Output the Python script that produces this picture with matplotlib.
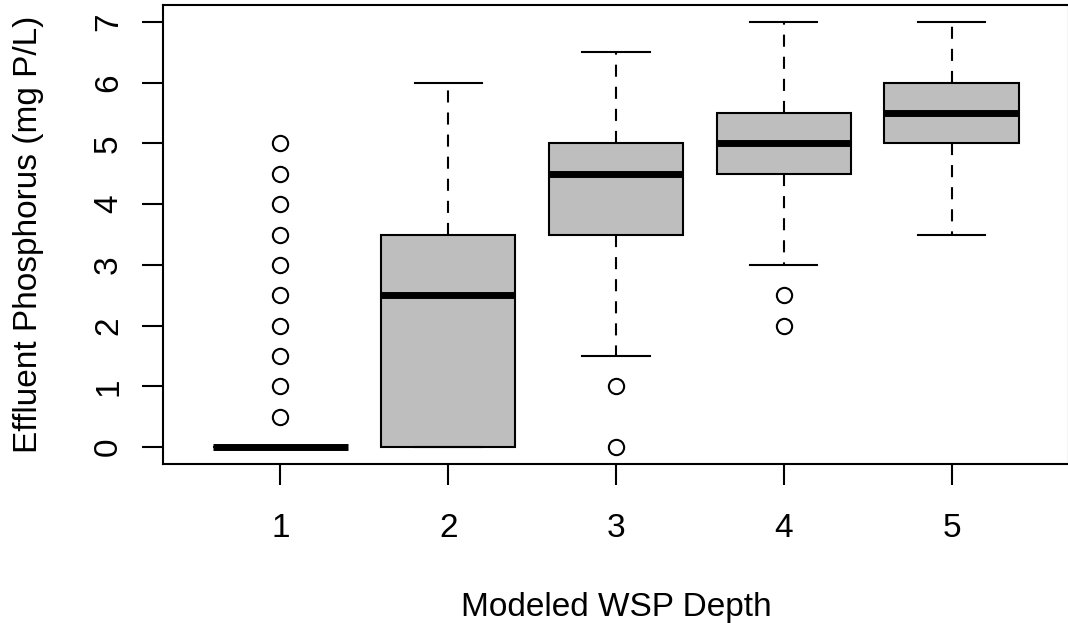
import matplotlib
matplotlib.use('Agg')
import matplotlib.pyplot as plt

# box stats
depth = [1, 2, 3, 4, 5]
q1 = [0, 0, 3.5, 4.5, 5.0]
med = [0, 2.5, 4.5, 5.0, 5.5]
q3 = [0, 3.5, 5.0, 5.5, 6.0]
wlo = [0, 0, 1.5, 3.0, 3.5]
whi = [0, 6.0, 6.5, 7.0, 7.0]
fliers = [
    [0.5, 1, 1.5, 2, 2.5, 3, 3.5, 4, 4.5, 5],
    [],
    [1, 0],
    [2.5, 2],
    [],
]
yticks = list(range(0, 8))

plt.rcParams['font.family'] = ['Liberation Sans', 'DejaVu Sans']

W, H = 1068, 623
fig = plt.figure(figsize=(W / 100, H / 100), dpi=100)
ax = fig.add_axes([163 / W, 1 - 464 / H, (1069 - 163) / W, (464 - 5) / H])

stats = []
for i in range(len(depth)):
    stats.append(dict(label=str(depth[i]), q1=q1[i], med=med[i], q3=q3[i],
                      whislo=wlo[i], whishi=whi[i], fliers=fliers[i]))

ax.bxp(stats, positions=depth, widths=0.8, patch_artist=True,
       boxprops=dict(facecolor='#bebebe', edgecolor='black', linewidth=1.5),
       medianprops=dict(color='black', linewidth=5, solid_capstyle='butt'),
       whiskerprops=dict(color='black', linewidth=1.5, linestyle=(0, (5.8, 4.8))),
       capprops=dict(color='black', linewidth=1.5),
       capwidths=0.4,
       flierprops=dict(marker='o', markerfacecolor='white', markeredgecolor='black',
                       markersize=11, markeredgewidth=1.5))

ax.set_xlim(0.3, 5.7)
ax.set_ylim(-0.28, 7.28)
ax.set_yticks(yticks)
ax.set_xticks(depth)
ax.set_xticklabels([str(d) for d in depth])
for lab in ax.get_yticklabels():
    lab.set_rotation(90)
    lab.set_va('center')
ax.tick_params(labelsize=24, length=15, width=1.5)
ax.tick_params(axis='x', pad=20)
ax.tick_params(axis='y', pad=13)
for s in ax.spines.values():
    s.set_linewidth(1.5)

fig.text(616 / W, 1 - 616 / H, 'Modeled WSP Depth', fontsize=24,
         ha='center', va='baseline')
fig.text(37 / W, 1 - 234 / H, 'Effluent Phosphorus (mg P/L)', fontsize=24,
         rotation=90, rotation_mode='anchor', ha='center', va='baseline')

fig.savefig('out.png', dpi=100)
